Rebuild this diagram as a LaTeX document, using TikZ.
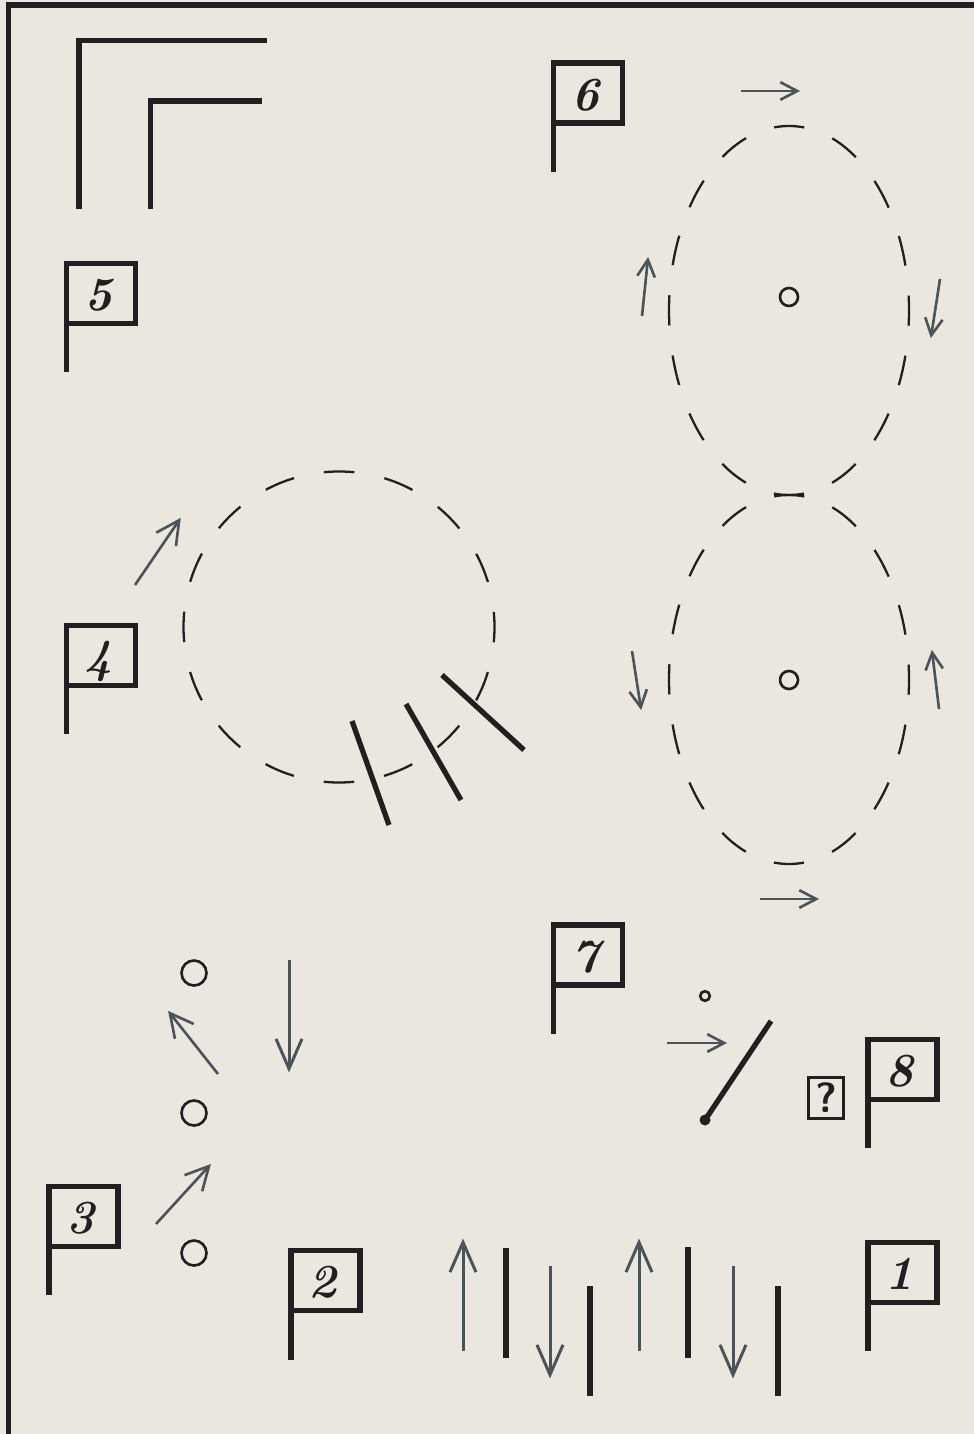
\documentclass[tikz,border=0pt]{standalone}
\usepackage{xcolor}
\usepackage{tikz}
\usetikzlibrary{positioning, arrows.meta}

\definecolor{paper}{HTML}{EAE7E0}
\definecolor{ink}{HTML}{231F20}
\definecolor{pen}{HTML}{4D5357}

\tikzset{
  flagbox/.style={draw=ink, line width=1.5pt, rectangle, outer sep=0pt, inner sep=0pt,
    minimum width=69*0.2845pt, minimum height=60*0.2845pt, text height=9.7pt, text depth=0pt,
    font=\fontsize{13.5}{13.5}\selectfont\bfseries\itshape, text=ink},
  flagpole/.style={draw=ink, line width=1.5pt},
  wall/.style={draw=ink, line width=1.5pt},
  ring/.style={draw=ink, line width=0.75pt},
  track/.style={draw=ink, line width=0.65pt, dash pattern=on 8.6pt off 8.6pt, dash phase=4.3pt},
  loop/.style={draw=ink, line width=0.65pt, dash pattern=on 8.7pt off 8.67pt, dash phase=4.35pt},
  shortarrow/.style={draw=pen, line width=0.75pt, shorten >=-0.3pt, -{Straight Barb[length=4.8pt,width=5pt]}},
  midarrow/.style={draw=pen, line width=0.75pt, shorten >=-0.4pt, -{Straight Barb[length=6.6pt,width=6.8pt]}},
  longarrow/.style={draw=pen, line width=0.85pt, shorten >=-0.7pt, -{Straight Barb[length=8.5pt,width=7.4pt]}}
}

\begin{document}
\begin{tikzpicture}[x=0.01cm, y=-0.01cm]
  \useasboundingbox (0,0) rectangle (974,1434);
  \fill[paper] (0,0) rectangle (974,1434);

  % Frame
  \draw[ink, line width=1.45pt] (8.5,1434) -- (8.5,5) -- (974,5);

  % Flags
  \foreach \name/\cx/\cy/\low in {1/902.5/1272.5/1351, 2/325.5/1280.5/1360, 3/83.5/1216.5/1295, 4/101/655.5/734,
      5/101/293.5/372, 6/588/93/172, 7/588/955/1034, 8/902.5/1069.5/1148} {
    \node[flagbox] (flag\name) at (\cx,\cy) {\kern-1.6pt\name};
    \draw[flagpole] (flag\name.north west) -- (flag\name.west |- 0,\low);
  }

  % Walls
  \draw[wall] (79,209) -- (79,40.5) -- (266.5,40.5);
  \draw[wall] (150.5,209) -- (150.5,101) -- (262,101);

  % Tracks
  \draw[track] (789,310.5) ellipse (120 and 184.5);
  \draw[track] (789,679.5) ellipse (120 and 184.5);
  \draw[loop] (339,627) circle (155.5);

  % Rings
  \foreach \name/\cx/\cy/\r in {a/789/297/9, b/789/680/9, c/194/973/12.5, d/194/1113/12.5, e/194/1253/12.5, f/705/996/4.8} {
    \draw[ring] (\cx,\cy) circle (\r);
    \coordinate (ring\name) at (\cx,\cy);
  }

  % Gate
  \fill[ink] (705,1120) circle (5.5);
  \draw[wall] (705,1120) -- (771,1021);
  \draw[shortarrow] (667,1043) -- (726,1043);
  \node[draw=ink, line width=0.75pt, rectangle, inner sep=0pt, outer sep=0pt, minimum width=35*0.2845pt,
    minimum height=41*0.2845pt, font=\sffamily\bfseries\fontsize{12}{12}\selectfont, text=ink] (query) at (826,1098) {?};

  % Short arrows
  \foreach \ax/\ay/\bx/\by in {741/91/799/91, 642/316/648/258, 940/279/931/337, 632/651/641/709,
      939/709/932/651, 760/899/818/899} {
    \draw[shortarrow] (\ax,\ay) -- (\bx,\by);
  }

  % Middle arrows
  \foreach \ax/\ay/\bx/\by in {135/585/180/519, 218/1074/169/1012, 156/1224/210/1165} {
    \draw[midarrow] (\ax,\ay) -- (\bx,\by);
  }

  % Long arrows
  \foreach \ax/\ay/\bx/\by in {289/960/289/1070, 463/1351/463/1241, 550/1266/550/1376, 639/1351/639/1241, 733/1266/733/1376} {
    \draw[longarrow] (\ax,\ay) -- (\bx,\by);
  }

  % Bars
  \foreach \ax/\ay/\bx/\by in {506/1248/506/1358, 590/1286/590/1396, 688/1247/688/1358, 778/1286/778/1396,
      352/721/389/825, 406/704/461/800, 442/675/524/750} {
    \draw[wall] (\ax,\ay) -- (\bx,\by);
  }
\end{tikzpicture}
\end{document}
